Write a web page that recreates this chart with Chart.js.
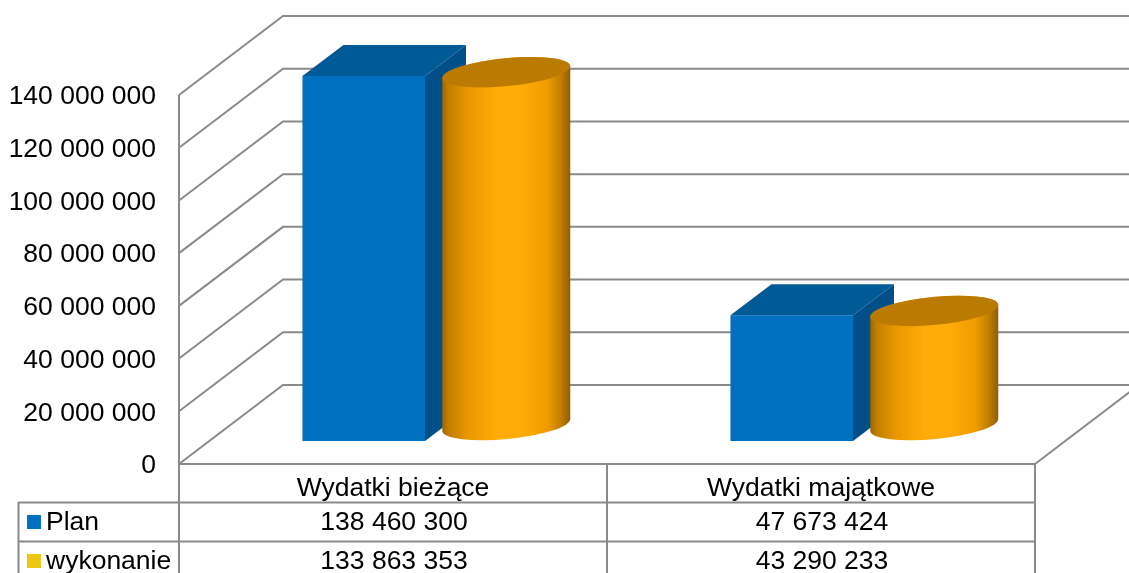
<!DOCTYPE html>
<html>
<head>
<meta charset="utf-8">
<style>html,body{margin:0;padding:0;background:#fff}canvas{display:block}</style>
<script src="https://cdn.jsdelivr.net/npm/chart.js@4/dist/chart.umd.min.js"></script>
</head>
<body>
<canvas id="c" width="1129" height="573"></canvas>
<script>
const categories = ['Wydatki bieżące', 'Wydatki majątkowe'];
const seriesNames = ['Plan', 'wykonanie'];
const planValues = [138460300, 47673424];
const wykonanieValues = [133863353, 43290233];
const keyColors = ['#0070c0', '#ecc813'];

const FONT = '"Liberation Sans", Arial, sans-serif';
const LINE = '#8a8a8a';
const fmt = v => String(v).replace(/\B(?=(\d{3})+(?!\d))/g, ' ');

const depth = {wallX: 104, wallY: -79, barX: 42, barY: -23, topX: 41, topY: -31, cylY: -39, rot: -5.5 * Math.PI / 180, ry: 14};

function seg(ctx, pts) {
  ctx.beginPath();
  pts.forEach((p, i) => i ? ctx.lineTo(p[0], p[1]) : ctx.moveTo(p[0], p[1]));
  ctx.stroke();
}

const chart3d = {
  id: 'chart3d',
  beforeDatasetsDraw(chart) {
    const {ctx, chartArea: a, scales: {y}, width} = chart;
    ctx.save();
    ctx.strokeStyle = LINE; ctx.lineWidth = 2; ctx.lineJoin = 'miter';
    y.ticks.forEach(t => {
      const py = y.getPixelForValue(t.value);
      seg(ctx, [[a.left, py], [a.left + depth.wallX, py + depth.wallY], [width, py + depth.wallY]]);
    });
    seg(ctx, [[a.right, a.bottom], [a.right + depth.wallX, a.bottom + depth.wallY]]);
    seg(ctx, [[a.left, a.top], [a.left, 573]]);
    seg(ctx, [[a.left, a.bottom], [a.right, a.bottom]]);
    ctx.restore();
  },
  beforeDatasetDraw(chart, args) {
    if (args.index === 0) {
      chart.ctx.save();
      chart.ctx.translate(depth.barX, depth.barY);
    }
  },
  afterDatasetDraw(chart, args) {
    const ctx = chart.ctx;
    if (args.index === 0) {
      ctx.restore();
      args.meta.data.forEach(el => {
        const l = el.x - el.width / 2 + depth.barX, r = el.x + el.width / 2 + depth.barX;
        const t = el.y + depth.barY, b = el.base + depth.barY;
        ctx.fillStyle = '#004f88';
        ctx.beginPath();
        ctx.moveTo(r, t); ctx.lineTo(r + depth.topX, t + depth.topY);
        ctx.lineTo(r + depth.topX, b + depth.topY); ctx.lineTo(r, b);
        ctx.closePath(); ctx.fill();
        ctx.fillStyle = '#005a96';
        ctx.beginPath();
        ctx.moveTo(l, t); ctx.lineTo(l + depth.topX, t + depth.topY);
        ctx.lineTo(r + depth.topX, t + depth.topY); ctx.lineTo(r, t);
        ctx.closePath(); ctx.fill();
      });
    }
  },
  afterDatasetsDraw(chart) {
    const ctx = chart.ctx;
    chart.getDatasetMeta(1).data.forEach(el => {
      const cx = el.x + depth.barX, rx = el.width / 2 + 3;
      const top = el.y + depth.cylY, base = el.base + depth.cylY;
      const g = ctx.createLinearGradient(cx - rx, 0, cx + rx, 0);
      g.addColorStop(0, '#9a6600');
      g.addColorStop(0.05, '#c17f00');
      g.addColorStop(0.2, '#e99800');
      g.addColorStop(0.42, '#ffab08');
      g.addColorStop(0.62, '#ffab08');
      g.addColorStop(0.82, '#f09c00');
      g.addColorStop(0.93, '#bd7c00');
      g.addColorStop(1, '#8c5c00');
      ctx.fillStyle = g;
      ctx.beginPath();
      ctx.ellipse(cx, base, rx, depth.ry, depth.rot, 0, Math.PI);
      ctx.ellipse(cx, top, rx, depth.ry, depth.rot, Math.PI, 2 * Math.PI);
      ctx.closePath(); ctx.fill();
      ctx.fillStyle = '#bb7b00';
      ctx.beginPath();
      ctx.ellipse(cx, top, rx, depth.ry, depth.rot, 0, 2 * Math.PI);
      ctx.fill();
    });
  },
  afterDraw(chart) {
    const {ctx, chartArea: a, scales: {x}} = chart;
    const rows = [planValues, wykonanieValues];
    const rowY = [502.5, 541.5];
    ctx.save();
    ctx.strokeStyle = LINE; ctx.lineWidth = 2;
    rowY.forEach(y => seg(ctx, [[18, y], [a.right, y]]));
    seg(ctx, [[18.5, rowY[0]], [18.5, 573]]);
    seg(ctx, [[(a.left + a.right) / 2, a.bottom], [(a.left + a.right) / 2, 573]]);
    seg(ctx, [[a.right, a.bottom], [a.right, 573]]);
    ctx.font = '26.5px ' + FONT;
    ctx.textBaseline = 'middle';
    rows.forEach((vals, i) => {
      const cy = rowY[i] + 20;
      ctx.fillStyle = keyColors[i];
      ctx.fillRect(27, cy - 7.5, 14, 14);
      ctx.fillStyle = '#000';
      ctx.textAlign = 'left';
      ctx.fillText(seriesNames[i], 46, cy);
      ctx.textAlign = 'center';
      vals.forEach((v, j) => ctx.fillText(fmt(v), x.getPixelForTick(j) + 1, cy));
    });
    ctx.restore();
  }
};

new Chart(document.getElementById('c'), {
  type: 'bar',
  data: {
    labels: categories,
    datasets: [
      {label: seriesNames[0], data: planValues, backgroundColor: keyColors[0], categoryPercentage: 0.666, barPercentage: 0.86, clip: false},
      {label: seriesNames[1], data: wykonanieValues, backgroundColor: 'rgba(0,0,0,0)', categoryPercentage: 0.666, barPercentage: 0.86, clip: false}
    ]
  },
  options: {
    responsive: false,
    animation: false,
    layout: {padding: {top: 95, right: 94, left: 0, bottom: 0}},
    plugins: {legend: {display: false}, title: {display: false}, tooltip: {enabled: false}},
    scales: {
      x: {
        grid: {display: false},
        border: {display: false},
        ticks: {font: {family: FONT, size: 26.5}, color: '#000', padding: 1, maxRotation: 0},
        afterFit(s) { s.height = 109; }
      },
      y: {
        min: 0, max: 140000000,
        grid: {display: false},
        border: {display: false},
        ticks: {stepSize: 20000000, font: {family: FONT, size: 26.5}, color: '#000', padding: 15, labelOffset: 2, callback: v => fmt(v)},
        afterFit(s) { s.width = 179; }
      }
    }
  },
  plugins: [chart3d]
});
</script>
</body>
</html>
